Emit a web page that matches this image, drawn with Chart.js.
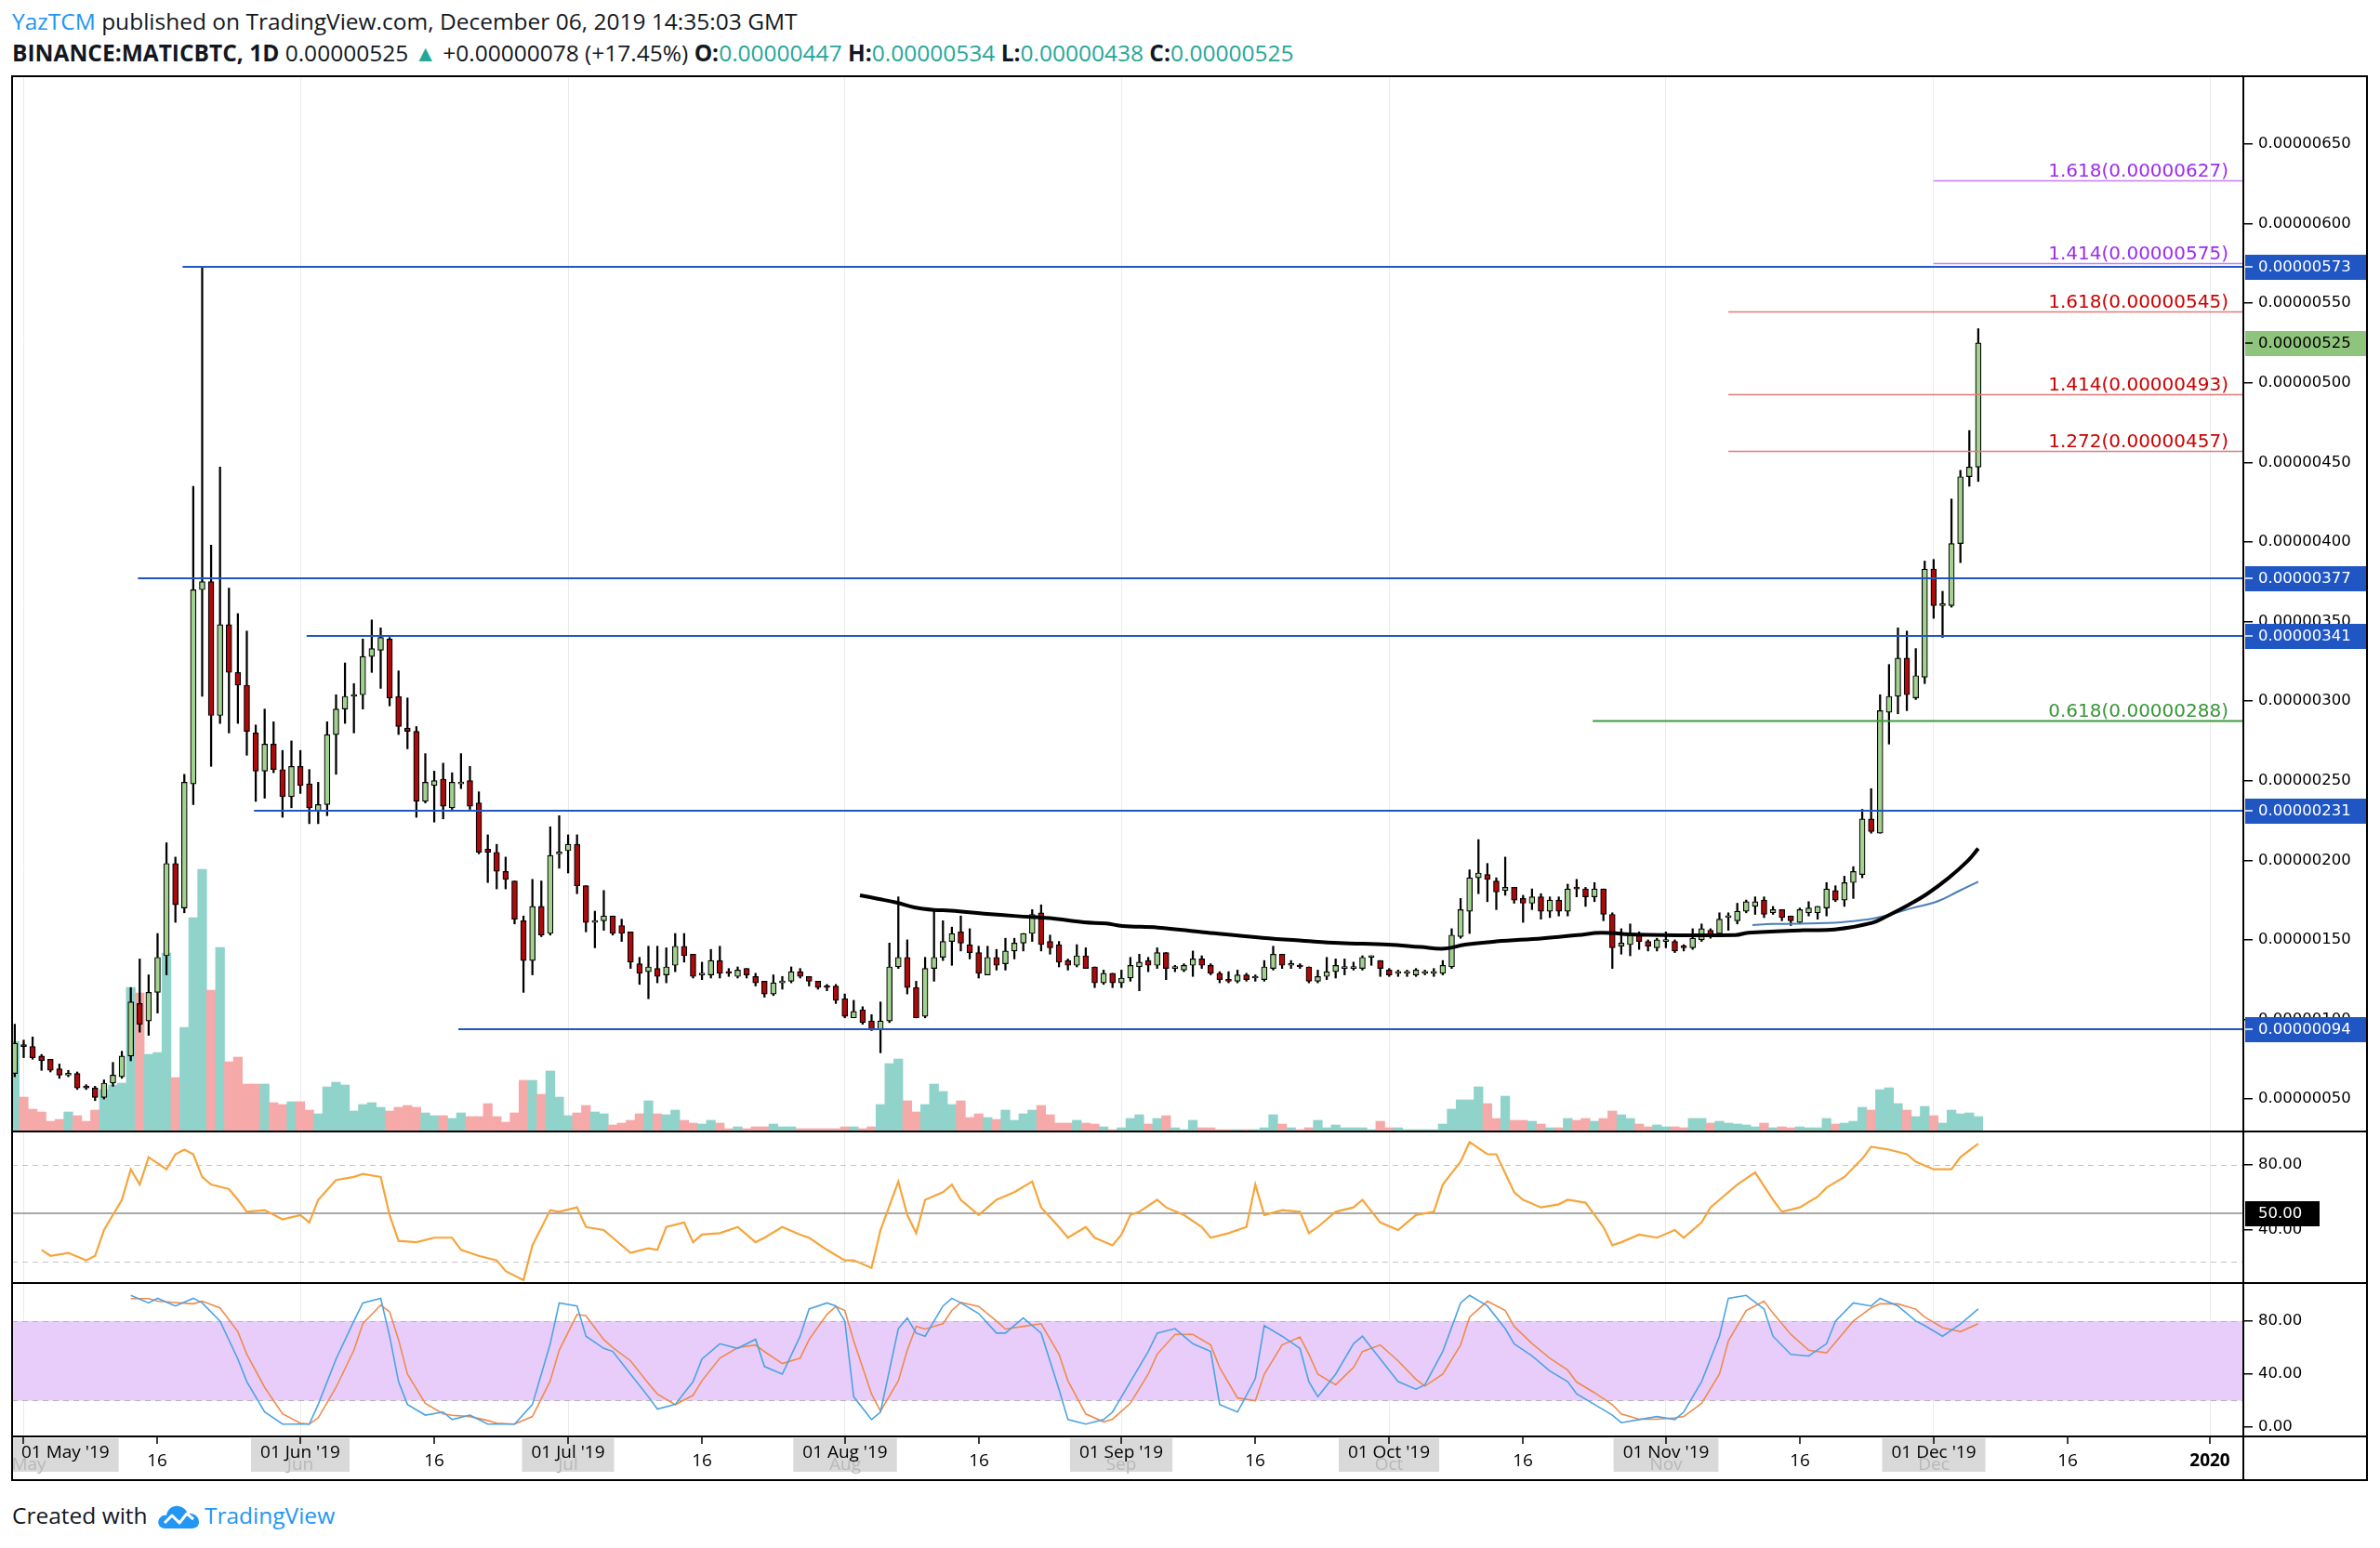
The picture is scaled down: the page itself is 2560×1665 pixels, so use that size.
<!DOCTYPE html>
<html>
<head>
<meta charset="utf-8">
<title>MATICBTC 1D</title>
<script src="https://cdn.jsdelivr.net/npm/chart.js@4.4.1/dist/chart.umd.min.js"></script>
<style>
  html, body { margin: 0; padding: 0; background: #fff; }
  body { width: 2560px; height: 1665px; position: relative; overflow: hidden; font-family: "Open Sans", sans-serif; }
  .txt { position: absolute; left: 13px; font-size: 24.5px; color: #131722; white-space: nowrap; line-height: 30px; }
  .teal { color: #26a69a; }
  .blue { color: #2196f3; }
  canvas { position: absolute; left: 13px; }
  .rule { position: absolute; background: #000; }
</style>
</head>
<body>
<div class="txt" style="top:8px"><span class="blue">YazTCM</span> published on TradingView.com, December 06, 2019 14:35:03 GMT</div>
<div class="txt" style="top:42px"><b>BINANCE:MATICBTC, 1D</b> 0.00000525 <span class="teal">▲</span> +0.00000078 (+17.45%) <b>O:</b><span class="teal">0.00000447</span> <b>H:</b><span class="teal">0.00000534</span> <b>L:</b><span class="teal">0.00000438</span> <b>C:</b><span class="teal">0.00000525</span></div>

<canvas id="price" width="2532" height="1135" style="top:82px"></canvas>
<canvas id="rsi" width="2532" height="162" style="top:1218px"></canvas>
<canvas id="stoch" width="2532" height="211" style="top:1381px"></canvas>

<div class="rule" style="left:12px;top:81px;width:2535px;height:2px"></div>
<div class="rule" style="left:12px;top:1216px;width:2535px;height:2px"></div>
<div class="rule" style="left:12px;top:1379px;width:2535px;height:2px"></div>
<div class="rule" style="left:12px;top:1544px;width:2535px;height:2px"></div>
<div class="rule" style="left:12px;top:1591px;width:2535px;height:2px"></div>
<div class="rule" style="left:12px;top:81px;width:2px;height:1512px"></div>
<div class="rule" style="left:2545px;top:81px;width:2px;height:1512px"></div>
<div class="rule" style="left:2412px;top:81px;width:2px;height:1512px"></div>

<div class="txt" style="top:1615px">Created with
  <svg width="50" height="30" viewBox="0 0 48 30" style="vertical-align:-7px;margin:0 3px 0 2px">
    <path d="M10 28 C3 28 1 22 3 18 C5 14 9 13 11 14 C12 7 18 3 24 4 C30 5 33 9 34 12 C40 11 46 15 46 21 C46 26 42 28 38 28 Z" fill="#2196f3"/>
    <polyline points="9,22 17,14 25,22 33,12 40,18" fill="none" stroke="#fff" stroke-width="3" stroke-linejoin="round"/>
  </svg><span class="blue">TradingView</span></div>

<script>
// daily candles, 30 Apr 2019 .. 06 Dec 2019, prices in satoshi (1e-8 BTC)
const firstDay = -1; // day index of the first candle, counted from 01 May 2019

const open = [
  66, 84, 83, 77, 75, 69, 65, 66, 58, 57,
  51, 60, 64, 77, 110, 99, 117, 140, 198, 170,
  248, 370, 375, 291, 348, 318, 310, 280, 256, 273,
  257, 240, 259, 248, 231, 235, 279, 295, 303, 304,
  328, 332, 339, 303, 283, 281, 237, 247, 251, 233,
  248, 250, 236, 207, 205, 193, 187, 162, 137, 171,
  154, 204, 206, 210, 184, 161, 162, 165, 159, 155,
  135, 130, 132, 128, 134, 146, 141, 128, 128, 137,
  130, 127, 132, 127, 124, 116, 123, 124, 130, 127,
  124, 121, 121, 113, 101, 106, 99, 94, 99, 133,
  139, 120, 102, 132, 139, 149, 155, 147, 142, 128,
  139, 135, 143, 148, 154, 167, 149, 147, 137, 134,
  140, 133, 123, 129, 123, 126, 133, 137, 134, 142,
  132, 131, 134, 138, 134, 129, 125, 124, 128, 126,
  125, 132, 141, 134, 134, 133, 124, 127, 130, 132,
  132, 132, 139, 137, 131, 129, 129, 128, 129, 129,
  129, 133, 152, 168, 189, 191, 187, 181, 183, 176,
  173, 177, 168, 175, 168, 183, 182, 177, 182, 166,
  146, 147, 153, 149, 145, 149, 149, 146, 145, 150,
  156, 154, 164, 162, 168, 171, 175, 167, 169, 165,
  161, 167, 167, 170, 181, 175, 186, 191, 226, 217,
  293, 303, 327, 302, 315, 383, 360, 360, 399, 441,
  447
];
const high = [
  97, 87, 89, 78, 75, 72, 68, 67, 59, 58,
  62, 73, 80, 120, 138, 128, 154, 211, 202, 254,
  435, 573, 398, 447, 371, 355, 344, 285, 295, 287,
  269, 275, 269, 257, 249, 287, 304, 324, 311, 339,
  351, 346, 340, 319, 302, 284, 267, 256, 261, 255,
  267, 259, 243, 216, 210, 202, 187, 165, 188, 187,
  221, 228, 216, 216, 184, 168, 181, 165, 163, 155,
  139, 146, 146, 145, 154, 154, 141, 136, 144, 146,
  132, 133, 132, 129, 124, 128, 127, 133, 132, 127,
  124, 122, 122, 116, 112, 108, 103, 111, 148, 177,
  150, 124, 139, 168, 162, 158, 165, 157, 146, 146,
  144, 151, 151, 154, 169, 172, 153, 149, 138, 147,
  145, 133, 131, 129, 131, 139, 141, 139, 145, 142,
  134, 135, 143, 140, 135, 130, 130, 131, 129, 128,
  137, 146, 141, 137, 135, 133, 131, 139, 138, 138,
  136, 140, 140, 137, 132, 131, 131, 132, 131, 132,
  137, 157, 176, 194, 213, 198, 189, 202, 183, 178,
  182, 179, 177, 177, 185, 188, 183, 186, 182, 167,
  157, 160, 155, 150, 151, 155, 150, 147, 157, 160,
  157, 167, 167, 173, 175, 177, 177, 171, 169, 165,
  170, 174, 171, 186, 184, 190, 196, 232, 245, 304,
  323, 346, 344, 333, 388, 389, 369, 427, 445, 470,
  534
];
const low = [
  64, 76, 75, 68, 67, 63, 64, 56, 56, 49,
  50, 58, 63, 74, 92, 90, 104, 128, 161, 167,
  235, 303, 259, 286, 280, 286, 266, 237, 239, 255,
  227, 233, 242, 223, 223, 228, 254, 286, 280, 295,
  318, 308, 297, 279, 270, 227, 236, 224, 226, 232,
  245, 232, 204, 186, 182, 182, 160, 117, 128, 152,
  153, 195, 192, 179, 155, 145, 156, 153, 149, 132,
  122, 113, 123, 123, 130, 136, 126, 125, 126, 126,
  127, 126, 126, 121, 114, 115, 119, 123, 126, 121,
  119, 118, 110, 101, 101, 97, 93, 79, 98, 132,
  116, 101, 101, 124, 137, 134, 143, 138, 126, 128,
  131, 131, 138, 143, 149, 143, 141, 133, 131, 133,
  132, 120, 122, 120, 120, 124, 118, 130, 132, 125,
  130, 130, 127, 132, 128, 123, 123, 123, 124, 124,
  124, 131, 132, 132, 132, 123, 123, 125, 126, 128,
  131, 131, 134, 127, 127, 127, 127, 127, 128, 127,
  128, 132, 151, 154, 179, 174, 169, 178, 173, 161,
  169, 163, 164, 165, 165, 177, 171, 174, 162, 132,
  141, 140, 144, 143, 143, 145, 142, 143, 144, 149,
  151, 153, 156, 160, 167, 166, 164, 166, 162, 159,
  160, 165, 163, 165, 174, 171, 176, 189, 217, 217,
  273, 292, 294, 301, 311, 352, 340, 359, 387, 435,
  438
];
const close = [
  85, 83, 76, 74, 68, 65, 66, 57, 57, 51,
  60, 65, 77, 111, 97, 117, 139, 198, 172, 249,
  370, 375, 291, 348, 318, 310, 281, 256, 273, 257,
  240, 259, 247, 233, 235, 279, 295, 303, 304, 328,
  333, 340, 302, 284, 281, 237, 249, 250, 234, 249,
  249, 234, 205, 205, 193, 188, 163, 137, 171, 153,
  203, 204, 210, 184, 161, 161, 165, 154, 154, 136,
  129, 133, 127, 133, 146, 140, 127, 128, 137, 129,
  129, 131, 128, 123, 116, 123, 123, 130, 127, 124,
  120, 120, 112, 102, 105, 98, 94, 99, 133, 139,
  120, 101, 132, 139, 149, 154, 148, 142, 129, 139,
  134, 143, 148, 154, 166, 147, 145, 136, 134, 140,
  132, 123, 129, 123, 126, 134, 136, 134, 142, 132,
  132, 134, 138, 134, 129, 125, 124, 128, 125, 126,
  133, 141, 134, 134, 133, 124, 127, 130, 134, 132,
  133, 139, 139, 132, 128, 129, 129, 131, 129, 129,
  134, 153, 169, 189, 192, 188, 180, 183, 175, 173,
  177, 168, 175, 168, 182, 182, 177, 182, 166, 145,
  148, 153, 149, 146, 150, 149, 143, 145, 151, 157,
  153, 163, 165, 168, 174, 174, 166, 169, 164, 162,
  169, 170, 171, 182, 175, 186, 193, 226, 218, 294,
  303, 327, 304, 316, 383, 360, 360, 399, 441, 447,
  525
];
const volume = [
  97, 37, 24, 21, 11, 13, 21, 17, 11, 23,
  45, 50, 52, 155, 149, 83, 85, 192, 58, 112,
  230, 282, 152, 198, 75, 80, 51, 51, 51, 31,
  29, 32, 32, 23, 19, 48, 53, 50, 22, 29,
  31, 26, 22, 26, 28, 26, 20, 17, 17, 14,
  20, 16, 16, 30, 16, 10, 20, 55, 55, 40,
  65, 37, 17, 20, 28, 21, 19, 7, 9, 12,
  19, 33, 19, 18, 23, 12, 9, 8, 12, 9,
  3, 5, 3, 5, 5, 8, 5, 5, 3, 3,
  3, 3, 3, 5, 5, 3, 5, 29, 73, 78,
  33, 21, 29, 51, 43, 29, 33, 15, 19, 15,
  13, 23, 12, 19, 23, 28, 18, 9, 9, 12,
  9, 8, 5, 2, 4, 14, 18, 8, 14, 17,
  4, 2, 12, 4, 4, 2, 2, 2, 2, 2,
  4, 18, 8, 4, 2, 4, 12, 4, 7, 4,
  4, 4, 2, 11, 4, 4, 2, 2, 2, 2,
  8, 24, 34, 34, 48, 30, 14, 38, 12, 12,
  11, 8, 4, 4, 14, 12, 14, 11, 14, 22,
  18, 14, 8, 5, 7, 5, 5, 4, 14, 14,
  9, 11, 9, 8, 7, 5, 9, 4, 5, 4,
  5, 4, 4, 14, 8, 9, 11, 26, 23, 45,
  47, 30, 23, 16, 27, 17, 9, 23, 19, 20,
  16
];

// moving averages (day, price)
const maSlowDays = [93.7, 95.7, 97.9, 99.8, 102, 103.9, 107.6, 111.3, 115, 118.8, 121.3, 123.1, 127.1, 132.2, 138.8, 143.5, 147.4, 152.9, 156.5, 159.2, 161.5, 165, 170.2, 174.1, 176.8, 180.7, 191.8, 193.2, 199.4, 202.9, 207.1, 208.8, 211.2, 213.3, 215.7, 217.8, 219];
const maSlowValues = [178, 175.8, 173.3, 170.4, 168.8, 168.4, 166.5, 164.9, 163.6, 161, 160.3, 158.7, 157.7, 154.8, 151.3, 149.4, 148, 147, 145.5, 144.5, 147, 149, 151, 153, 154.4, 153.3, 153, 154.5, 156, 156.5, 160.7, 165, 172, 179, 189, 199.5, 207.4];
const maFastDays = [193.7, 195.9, 202.9, 206.4, 208.5, 211.6, 214.2, 216.8, 219];
const maFastValues = [159.3, 160, 160.7, 162.7, 165, 170, 173.7, 180.6, 186.5];

const rsiDays = [2,3,5,7,8,9,11,12,13,14,16,17,18,19,20,21,23,24,25,27,29,31,32,33,35,37,38,40,41,42,44,46,48,49,51,53,54,56,57,59,60,62,63,65,66,68,70,71,72,74,75,76,78,80,82,83,85,87,88,90,92,93,95,96,98,99,100,101,103,104,105,107,108,109,111,113,114,116,117,119,120,122,123,124,125,127,128,130,132,133,135,137,138,139,141,143,144,145,147,149,150,152,154,155,156,158,159,161,162,164,165,167,168,170,172,173,175,177,178,179,181,183,185,186,188,189,190,192,194,196,197,199,201,202,204,206,207,209,211,212,214,216,217,219];
const rsiValues = [27.5,23.8,25.6,21,23.8,39.7,58.4,77.2,67.8,84.7,77.2,86.5,89.4,86.5,72.5,67.8,65,58.4,51,52,46.3,49,44.4,58.4,70.6,72.5,74.4,72.5,49,33,32.2,35,35,27.5,23.8,21,14.4,8.8,30.3,52,51,53.7,41.6,39.7,35,25.6,28.4,27.5,41.6,44.4,32.2,36.9,37.8,41.6,32.2,35,41.6,36.9,35,27.5,21,21,16.3,39.7,69.7,49,37.8,58.4,63.1,67.8,58.4,49,53.7,58.4,63.1,69.7,53.7,41.6,35,41.6,35,30.3,36.9,49,51,58.4,53.7,49,41.6,35,37.8,41.6,67.8,49,52,51,37.8,41.6,51,53.7,58.4,44.4,39.7,44.4,49,51,67.8,81.9,94,86.5,86.5,63.1,58.4,53.7,55.6,58.4,56.6,41.6,30.3,32.2,36.9,35,39.7,35,44.4,53.7,58.4,67.8,75.3,58.4,51,53.7,60.3,65.9,72.5,83.7,91.2,89.4,86.5,81.9,77.2,77.2,84.7,93.1];
const stochDays = [12,14,15,17,19,20,22,24,25,27,29,31,32,33,35,37,38,40,41,42,43,45,47,48,50,52,53,55,57,59,60,62,63,65,66,68,70,71,73,75,76,78,80,82,83,85,87,88,90,91,92,93,95,96,98,99,100,101,103,104,105,107,109,110,112,114,116,117,119,121,122,124,126,127,129,131,133,134,136,138,139,141,143,144,145,147,149,150,152,154,156,157,159,161,162,164,166,167,169,171,173,174,176,178,179,181,183,185,186,188,190,191,193,195,196,198,200,202,203,205,207,208,210,212,213,215,217,219];
const stochK = [99.4,93.7,97.2,91.4,97.2,93.7,80,51.4,34.3,11.4,2.3,2.3,2.3,17.1,51.4,80,93.7,97.2,68.6,34.3,17.1,9.1,11.4,5.7,9.1,2.3,2.3,2.3,17.1,62.9,93.7,91.4,68.6,59.4,57.1,40,22.9,13.7,17.1,34.3,51.4,62.9,59.4,66.3,45.7,40,68.6,89.1,93.7,91.4,80,22.9,5.7,11.4,74.3,82.3,70.9,68.6,91.4,97.2,93.7,85.7,70.9,70.9,82.3,70.9,28.6,5.7,2.3,5.7,11.4,34.3,57.1,70.9,74.3,62.9,57.1,17.1,11.4,36.6,76.6,68.6,59.4,34.3,22.9,40,62.9,68.6,51.4,34.3,28.6,32,57.1,93.7,99.4,91.4,74.3,62.9,53.7,42.3,34.3,25.1,17.1,9.1,3.4,5.7,8,5.7,11.4,34.3,68.6,97.2,99.4,89.1,68.6,54.9,53.7,62.9,80,93.7,91.4,97.2,91.4,80,76.6,68.6,77.7,89.1];
const stochD = [97,97,95,94,93,95,90,72,55,30,10,3,2.3,7,30,58,78,92,87,66,40,18,10,9,8,5,3,2.3,8,35,58,85,84,66,60,50,33,25,17,24,35,52,60,62,57,48,52,66,85,91,88,65,25,12,35,58,76,74,78,88,94,91,80,74,76,78,55,35,10,4,6,18,40,55,70,70,62,45,22,20,40,62,68,55,40,32,45,57,62,50,36,31,40,62,83,95,88,76,63,52,43,34,26,17,10,6,6,7,8,18,40,65,88,95,86,70,58,56,64,80,90,93,93,89,83,75,72,78];

// levels drawn on the chart
const priceTicks = [50, 100, 150, 200, 250, 300, 350, 400, 450, 500, 550, 600, 650];
const levelPrices = [573, 377, 341, 231, 94];
const levelFromDays = [17.8, 12.8, 31.7, 25.8, 48.7];
const fibPrices = [627, 575, 545, 493, 457, 288];
const fibRatios = ['1.618', '1.414', '1.618', '1.414', '1.272', '0.618'];
const fibFromDays = [214, 214, 191, 191, 191, 175.8];
const lastPrice = 525;
const monthStartDays = [0, 31, 61, 92, 123, 153, 184, 214, 245];
const timeTickDays = [0, 15, 31, 46, 61, 76, 92, 107, 123, 138, 153, 168, 184, 199, 214, 229, 245];
const timeTickLabels = ["01 May '19", '16', "01 Jun '19", '16', "01 Jul '19", '16', "01 Aug '19", '16', "01 Sep '19", '16', "01 Oct '19", '16', "01 Nov '19", '16', "01 Dec '19", '16', '2020'];

Chart.defaults.font.family = 'DejaVu Sans';
Chart.defaults.font.size = 16;
Chart.defaults.color = '#000';

const axisWidth = 132;
const xMin = -1.3, xMax = 248.7;
const upColor = '#a3d18f', downColor = '#ad0b0b';
const fmtPrice = v => (v / 1e8).toFixed(8);
const days = open.map((_, i) => firstDay + i);
const isUp = i => close[i] >= open[i];
const axisFont = '16.5px "DejaVu Sans"';

function xAxis(h) {
  return {
    type: 'linear', min: xMin, max: xMax, offset: false,
    afterBuildTicks: s => { s.ticks = monthStartDays.map(v => ({ value: v })); },
    afterFit: s => { s.height = h; s.paddingLeft = 0; s.paddingRight = 0; },
    ticks: { display: false },
    grid: { color: '#ebebeb', drawTicks: false, offset: false },
    border: { display: false }
  };
}
function yAxis(min, max, ticks, fmt) {
  return {
    position: 'right', min: min, max: max,
    afterBuildTicks: s => { s.ticks = ticks.map(v => ({ value: v })); },
    afterFit: s => { s.width = axisWidth; s.paddingTop = 0; s.paddingBottom = 0; },
    grid: { drawOnChartArea: false, drawTicks: true, tickLength: 10, color: '#000', lineWidth: 1.5 },
    border: { display: false },
    ticks: { callback: fmt, padding: 6, color: '#000', font: { size: 16.5 } }
  };
}
const baseOptions = {
  responsive: false, devicePixelRatio: 1, animation: false,
  layout: { padding: 0, autoPadding: false },
  plugins: { legend: { display: false }, tooltip: { enabled: false } }
};

function axisBox(ctx, area, py, fill, color, text) {
  ctx.fillStyle = fill;
  ctx.fillRect(area.right + 2, py - 13, ctx.canvas.width - area.right - 2, 27);
  ctx.strokeStyle = color; ctx.lineWidth = 1.5;
  ctx.beginPath(); ctx.moveTo(area.right + 2, py); ctx.lineTo(area.right + 10, py); ctx.stroke();
  ctx.fillStyle = color;
  ctx.font = axisFont;
  ctx.textAlign = 'left'; ctx.textBaseline = 'middle';
  ctx.fillText(text, area.right + 16, py + 1);
}

const priceOverlay = {
  id: 'priceOverlay',
  afterDatasetsDraw(chart) {
    const { ctx, chartArea: a, scales: { x, y } } = chart;
    ctx.save();
    levelPrices.forEach((v, i) => {
      const py = Math.round(y.getPixelForValue(v));
      ctx.strokeStyle = '#1f56c4'; ctx.lineWidth = 2;
      ctx.beginPath(); ctx.moveTo(x.getPixelForValue(levelFromDays[i]), py); ctx.lineTo(a.right, py); ctx.stroke();
    });
    fibPrices.forEach((v, i) => {
      const py = Math.round(y.getPixelForValue(v)) + 0.5;
      const purple = i < 2, green = i === 5;
      ctx.strokeStyle = purple ? '#c77cf5' : green ? '#3c9a3c' : '#e47a7a';
      ctx.lineWidth = green ? 2 : 1.5;
      ctx.beginPath(); ctx.moveTo(x.getPixelForValue(fibFromDays[i]), py); ctx.lineTo(a.right, py); ctx.stroke();
      ctx.fillStyle = purple ? '#9b2cf0' : green ? '#389638' : '#cc0000';
      ctx.font = '20px "DejaVu Sans"';
      ctx.textAlign = 'right'; ctx.textBaseline = 'alphabetic';
      ctx.fillText(fibRatios[i] + '(' + fmtPrice(v) + ')', a.right - 16, py - 5);
    });
    ctx.restore();
  },
  afterDraw(chart) {
    const { ctx, chartArea: a, scales: { y } } = chart;
    ctx.save();
    levelPrices.forEach(v => axisBox(ctx, a, Math.round(y.getPixelForValue(v)), '#1f56c4', '#fff', fmtPrice(v)));
    axisBox(ctx, a, Math.round(y.getPixelForValue(lastPrice)), '#8fc47c', '#000', fmtPrice(lastPrice));
    ctx.restore();
  }
};

new Chart(document.getElementById('price'), {
  type: 'bar',
  data: {
    datasets: [
      { type: 'line', data: maSlowDays.map((d, i) => ({ x: d, y: maSlowValues[i] })), borderColor: '#000', borderWidth: 4, pointRadius: 0, tension: 0.4, order: 1 },
      { type: 'line', data: maFastDays.map((d, i) => ({ x: d, y: maFastValues[i] })), borderColor: '#4a7fb8', borderWidth: 2, pointRadius: 0, tension: 0.4, order: 1 },
      { data: days.map((d, i) => ({ x: d, y: [open[i], close[i]] })), backgroundColor: days.map((_, i) => isUp(i) ? upColor : downColor), borderColor: '#000', borderWidth: 1.2, borderSkipped: false, barThickness: 6, minBarLength: 2, grouped: false, order: 2 },
      { data: days.map((d, i) => ({ x: d, y: [low[i], high[i]] })), backgroundColor: '#000', barThickness: 1.6, grouped: false, order: 3 },
      { data: days.map((d, i) => ({ x: d, y: volume[i] })), yAxisID: 'vol', backgroundColor: days.map((_, i) => isUp(i) ? '#8fd3ca' : '#f6a9a9'), barPercentage: 1, categoryPercentage: 1, grouped: false, order: 4 }
    ]
  },
  options: Object.assign({}, baseOptions, {
    scales: {
      x: xAxis(0),
      y: yAxis(29.6, 692.6, priceTicks, fmtPrice),
      vol: { display: false, min: 0, max: 1135 }
    }
  }),
  plugins: [priceOverlay]
});

const rsiOverlay = {
  id: 'rsiOverlay',
  beforeDatasetsDraw(chart) {
    const { ctx, chartArea: a, scales: { y } } = chart;
    ctx.save();
    ctx.strokeStyle = '#c4c4c4'; ctx.lineWidth = 1; ctx.setLineDash([6, 5]);
    [80, 20].forEach(v => { const py = Math.round(y.getPixelForValue(v)) + 0.5; ctx.beginPath(); ctx.moveTo(a.left, py); ctx.lineTo(a.right, py); ctx.stroke(); });
    ctx.setLineDash([]); ctx.strokeStyle = '#8c8c8c'; ctx.lineWidth = 1.5;
    const p50 = Math.round(y.getPixelForValue(50));
    ctx.beginPath(); ctx.moveTo(a.left, p50); ctx.lineTo(a.right, p50); ctx.stroke();
    ctx.restore();
  },
  afterDraw(chart) {
    const { ctx, chartArea: a, scales: { y } } = chart;
    const py = Math.round(y.getPixelForValue(50));
    ctx.save();
    ctx.fillStyle = '#000';
    ctx.fillRect(a.right + 2, py - 13, 80, 27);
    ctx.fillStyle = '#fff'; ctx.font = axisFont; ctx.textBaseline = 'middle';
    ctx.fillText('50.00', a.right + 16, py + 1);
    ctx.restore();
  }
};

new Chart(document.getElementById('rsi'), {
  type: 'line',
  data: { datasets: [{ data: rsiDays.map((d, i) => ({ x: d, y: rsiValues[i] })), borderColor: '#f6a53c', borderWidth: 2.2, pointRadius: 0, tension: 0 }] },
  options: Object.assign({}, baseOptions, {
    scales: { x: xAxis(0), y: yAxis(7, 100, [40, 80], v => v.toFixed(2)) }
  }),
  plugins: [rsiOverlay]
});

const stochOverlay = {
  id: 'stochOverlay',
  beforeDatasetsDraw(chart) {
    const { ctx, chartArea: a, scales: { y } } = chart;
    const top = y.getPixelForValue(80), bot = y.getPixelForValue(20);
    ctx.save();
    ctx.fillStyle = '#e8cdfb';
    ctx.fillRect(a.left, top, a.right - a.left, bot - top);
    ctx.strokeStyle = '#b4b4b4'; ctx.lineWidth = 1; ctx.setLineDash([6, 5]);
    [top, bot].forEach(p => { const py = Math.round(p) + 0.5; ctx.beginPath(); ctx.moveTo(a.left, py); ctx.lineTo(a.right, py); ctx.stroke(); });
    ctx.restore();
  },
  afterDraw(chart) {
    const { ctx, chartArea: a, scales: { x } } = chart;
    const b = a.bottom;
    ctx.save();
    ctx.textAlign = 'center'; ctx.textBaseline = 'middle';
    timeTickDays.forEach((d, i) => {
      const px = Math.round(x.getPixelForValue(d));
      const label = timeTickLabels[i];
      const isMonth = label.indexOf("'") > 0;
      let cx = px;
      ctx.font = '19px "Open Sans"';
      if (isMonth) {
        const w = ctx.measureText(label).width + 20;
        let left = px - w / 2;
        if (left < 0) left = 0;
        cx = left + w / 2;
        ctx.fillStyle = '#d9d9d9';
        ctx.fillRect(left, b + 2, w, 36);
        ctx.fillStyle = '#b8b8b8';
        ctx.fillText(label.split(' ')[1], Math.max(px, 18), b + 31);
      }
      ctx.strokeStyle = '#000'; ctx.lineWidth = 1.5;
      ctx.beginPath(); ctx.moveTo(px, b + 1); ctx.lineTo(px, b + 8); ctx.stroke();
      ctx.fillStyle = '#000';
      if (label === '2020') ctx.font = 'bold 19px "Open Sans"';
      ctx.fillText(label, cx, isMonth ? b + 18 : b + 27);
    });
    ctx.restore();
  }
};

new Chart(document.getElementById('stoch'), {
  type: 'line',
  data: { datasets: [
    { data: stochDays.map((d, i) => ({ x: d, y: stochK[i] })), borderColor: '#4ba3e3', borderWidth: 1.6, pointRadius: 0, tension: 0 },
    { data: stochDays.map((d, i) => ({ x: d, y: stochD[i] })), borderColor: '#f08a4b', borderWidth: 1.6, pointRadius: 0, tension: 0 }
  ] },
  options: Object.assign({}, baseOptions, {
    scales: { x: xAxis(47), y: yAxis(-7, 108, [0, 40, 80], v => v.toFixed(2)) }
  }),
  plugins: [stochOverlay]
});
</script>
</body>
</html>
